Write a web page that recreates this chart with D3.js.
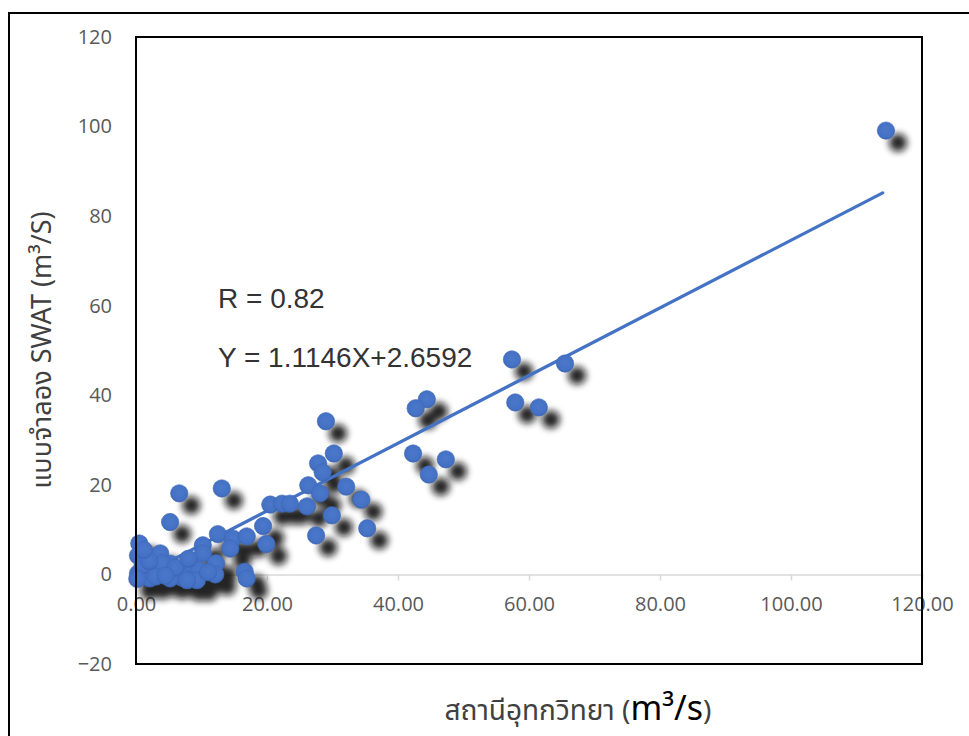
<!DOCTYPE html>
<html lang="th">
<head>
<meta charset="UTF-8">
<title>SWAT vs station discharge</title>
<script src="https://cdnjs.cloudflare.com/ajax/libs/d3/7.8.5/d3.min.js"></script>
<style>
  body { margin: 0; background: #fff; overflow: hidden; }
  svg text { font-family: "Open Sans", "Noto Sans", sans-serif; }
  .thai { font-family: "Noto Sans Thai", "Noto Sans", "DejaVu Sans", sans-serif; }
</style>
</head>
<body>
<div id="chart"></div>
<script>
// observed (station) vs simulated (SWAT) discharge, m3/s
const stationQ = [114.5, 57.4, 65.5, 57.9, 61.5, 44.4, 42.7, 42.3, 47.3, 44.7,
  29.0, 30.2, 27.8, 28.5, 26.3, 28.1, 32.1, 34.4, 29.9, 35.3,
  27.5, 20.5, 22.3, 23.5, 26.1, 19.4, 19.9, 6.6, 13.1, 5.2,
  0.5, 0.3, 0.3, 3.7, 10.2, 10.2, 12.5, 14.8, 16.9, 14.4,
  12.2, 12.1, 16.6, 16.9, 8.4, 9.6, 9.3, 6.3, 3.7, 1.4,
  5.2, 2.6, 7.0, 0.6, 2.1, 5.2, 7.8, 4.0, 1.0, 3.0,
  6.0, 8.0, 11.0, 2.0, 0.2, 4.5, 1.2];
const swatQ = [99.1, 48.0, 47.1, 38.4, 37.3, 39.1, 37.1, 27.0, 25.7, 22.3,
  34.2, 27.0, 24.8, 22.8, 19.9, 18.1, 19.6, 16.7, 13.2, 10.3,
  8.7, 15.6, 15.8, 15.8, 15.2, 10.8, 6.8, 18.1, 19.2, 11.7,
  6.9, 4.2, 0.2, 4.7, 6.5, 4.7, 9.0, 8.0, 8.5, 5.8,
  2.5, 0.0, 0.6, -0.9, 2.0, 0.9, -1.3, 0.2, 0.4, 0.9,
  2.4, 1.5, -0.7, 0.2, -0.9, -0.9, -1.3, 2.5, 2.0, -0.5,
  1.5, 3.5, 0.5, 3.0, -1.0, -0.3, 5.5];

// fitted line as drawn in the figure (end points)
const trendX = [0.3, 114.0];
const trendY = [-0.7, 85.2];

const xTicks = [0, 20, 40, 60, 80, 100, 120];
const yTicks = [-20, 0, 20, 40, 60, 80, 100, 120];

const width = 969, height = 736;
const plot = { left: 136, top: 37, right: 922, bottom: 664 };

const svg = d3.select("#chart").append("svg")
  .attr("width", width)
  .attr("height", height);

const x = d3.scaleLinear().domain([0, 120]).range([plot.left, plot.right]);
const y = d3.scaleLinear().domain([-20, 120]).range([plot.bottom, plot.top]);

// outer frame (runs off the right and bottom edge)
svg.append("rect")
  .attr("x", 9).attr("y", 13)
  .attr("width", 1000).attr("height", 1000)
  .attr("fill", "none").attr("stroke", "#000").attr("stroke-width", 2);

const defs = svg.append("defs");
defs.append("filter").attr("id", "shadowBlur")
  .attr("x", "-20%").attr("y", "-20%").attr("width", "140%").attr("height", "140%")
  .append("feGaussianBlur").attr("stdDeviation", 3.8);

const grad = defs.append("radialGradient").attr("id", "dotFill")
  .attr("cx", "50%").attr("cy", "45%").attr("r", "55%");
grad.append("stop").attr("offset", "0%").attr("stop-color", "#4a78cb");
grad.append("stop").attr("offset", "80%").attr("stop-color", "#4471c3");
grad.append("stop").attr("offset", "100%").attr("stop-color", "#3a64b3");

// x axis at y = 0 (light grey line with ticks below)
const xAxis = svg.append("g")
  .attr("transform", `translate(0,${y(0)})`)
  .call(d3.axisBottom(x).tickValues(xTicks).tickSize(6).tickFormat(d3.format(".2f")));
xAxis.select(".domain").attr("stroke", "#d9d9d9").attr("stroke-width", 1.5);
xAxis.selectAll(".tick line").attr("stroke", "#d9d9d9").attr("stroke-width", 1.5);
xAxis.selectAll(".tick text")
  .attr("y", 30).attr("dy", "0.35em")
  .attr("fill", "#595959").attr("font-size", 20)
  .style("font-family", "'Open Sans', sans-serif");

// y axis labels only
const yAxis = svg.append("g")
  .attr("transform", `translate(${plot.left},0)`)
  .call(d3.axisLeft(y).tickValues(yTicks).tickSize(0).tickPadding(24));
yAxis.select(".domain").remove();
yAxis.selectAll(".tick text")
  .attr("fill", "#595959").attr("font-size", 20)
  .style("font-family", "'Open Sans', sans-serif");

// shadows
const pts = stationQ.map((v, i) => ({ x: v, y: swatQ[i] }));
svg.append("g")
  .attr("filter", "url(#shadowBlur)")
  .attr("opacity", 0.9)
  .selectAll("circle")
  .data(pts)
  .join("circle")
  .attr("cx", d => x(d.x) + 12)
  .attr("cy", d => y(d.y) + 12)
  .attr("r", 9)
  .attr("fill", "#111");

// trend line
svg.append("line")
  .attr("x1", x(trendX[0])).attr("y1", y(trendY[0]))
  .attr("x2", x(trendX[1])).attr("y2", y(trendY[1]))
  .attr("stroke", "#4472c4").attr("stroke-width", 3.2)
  .attr("stroke-linecap", "round");

// points
svg.append("g")
  .selectAll("circle")
  .data(pts)
  .join("circle")
  .attr("cx", d => x(d.x))
  .attr("cy", d => y(d.y))
  .attr("r", 8.7)
  .attr("fill", "url(#dotFill)")
  .attr("stroke", "#3e68b8").attr("stroke-width", 0.6);

// plot area border
svg.append("rect")
  .attr("x", plot.left).attr("y", plot.top)
  .attr("width", plot.right - plot.left).attr("height", plot.bottom - plot.top)
  .attr("fill", "none").attr("stroke", "#000").attr("stroke-width", 2);

// annotations
svg.append("text")
  .attr("x", 218).attr("y", 298).attr("dy", "0.35em")
  .attr("font-size", 28).attr("fill", "#333")
  .style("font-family", "'Liberation Sans', sans-serif")
  .text("R = 0.82");
svg.append("text")
  .attr("x", 218).attr("y", 357).attr("dy", "0.35em")
  .attr("font-size", 28).attr("fill", "#333")
  .style("font-family", "'Liberation Sans', sans-serif")
  .text("Y = 1.1146X+2.6592");

// y axis title
const yTitle = svg.append("text")
  .attr("class", "thai")
  .attr("transform", "translate(42,350) rotate(-90)")
  .attr("text-anchor", "middle").attr("dy", "0.35em")
  .attr("font-size", 27).attr("fill", "#404040");
yTitle.append("tspan").text("แบบจำลอง SWAT (m³/S)");

// x axis title
const xTitle = svg.append("text")
  .attr("class", "thai")
  .attr("x", 578).attr("y", 720)
  .attr("text-anchor", "middle")
  .attr("font-size", 28).attr("fill", "#404040");
xTitle.append("tspan").text("สถานีอุทกวิทยา (");
xTitle.append("tspan").attr("font-size", 34).attr("fill", "#000").text("m³/s");
xTitle.append("tspan").text(")");
</script>
</body>
</html>
